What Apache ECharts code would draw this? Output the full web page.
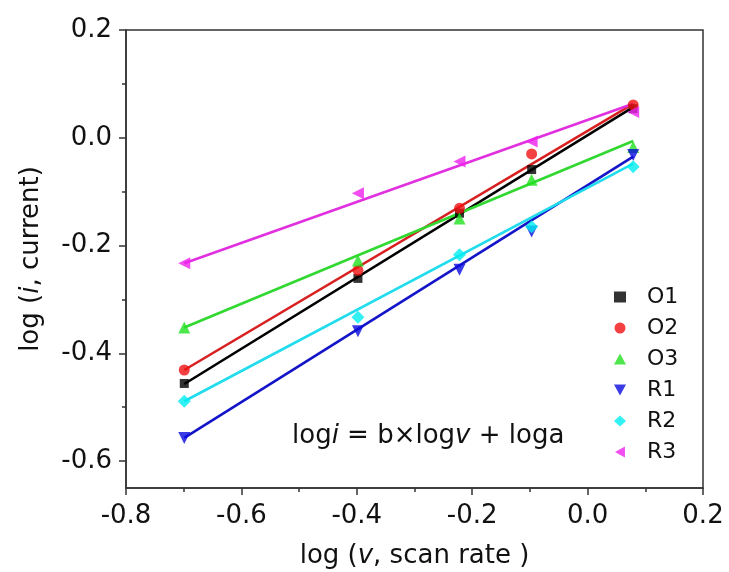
<!DOCTYPE html>
<html>
<head>
<meta charset="utf-8">
<script src="https://cdn.jsdelivr.net/npm/echarts@6/dist/echarts.min.js"></script>
<style>
  html, body { margin: 0; padding: 0; background: #fff; }
  #chart { width: 729px; height: 572px; }
</style>
</head>
<body>
<div id="chart"></div>
<script>
// log of scan rate (x) for the five measurements
const logV = [-0.699, -0.398, -0.222, -0.097, 0.079]

// measured log(i) for each peak
const O1 = [-0.456, -0.261, -0.14, -0.059, 0.054]
const O2 = [-0.431, -0.246, -0.131, -0.030, 0.061]
const O3 = [-0.352, -0.228, -0.150, -0.078, -0.017]
const R1 = [-0.557, -0.359, -0.245, -0.174, -0.032]
const R2 = [-0.489, -0.333, -0.217, -0.165, -0.054]
const R3 = [-0.233, -0.103, -0.044, -0.007, 0.048]

// fitted line ends (at first and last x)
const fitX = [-0.699, 0.079]
const fitO1 = [-0.457, 0.057]
const fitO2 = [-0.431, 0.063]
const fitO3 = [-0.352, -0.006]
const fitR1 = [-0.557, -0.035]
const fitR2 = [-0.489, -0.048]
const fitR3 = [-0.233, 0.063]

const names = ['O1', 'O2', 'O3', 'R1', 'R2', 'R3']
const yMajor = [-0.6, -0.4, -0.2, 0, 0.2]
const yMinor = [-0.5, -0.3, -0.1, 0.1]

const font = 'DejaVu Sans, sans-serif'
const chart = echarts.init(document.getElementById('chart'))

const points = [O1, O2, O3, R1, R2, R3]
const fits = [fitO1, fitO2, fitO3, fitR1, fitR2, fitR3]
const symbols = ['rect', 'circle', 'triangle', 'triangle', 'diamond', 'triangle']
const rotates = [0, 0, 0, 180, 0, 90]
const sizes = [9, 11, 12, 12, 13, 12]
// legend icons (legend does not pick up the rotation)
const legendIcons = ['rect', 'circle', 'triangle', 'path://M0,0L10,0L5,9Z', 'diamond', 'path://M9,0L9,10L0,5Z']
const dotColors = ['#000000', '#f01010', '#20e020', '#0a0ae0', '#00eef0', '#ee20ee']
const lineColors = ['#000000', '#d82020', '#30d830', '#1414c8', '#20dcec', '#e030e0']

const series = []
// fit lines underneath
fits.forEach((f, i) => {
  series.push({
    name: names[i] + ' fit',
    type: 'line',
    data: fitX.map((x, k) => [x, f[k]]),
    showSymbol: false,
    symbol: 'none',
    lineStyle: { color: lineColors[i], width: 2.6 },
    z: 2,
    silent: true
  })
})
points.forEach((p, i) => {
  series.push({
    name: names[i],
    type: 'scatter',
    data: logV.map((x, k) => [x, p[k]]),
    symbol: symbols[i],
    symbolRotate: rotates[i],
    symbolSize: sizes[i],
    itemStyle: { color: dotColors[i] },
    z: 3
  })
})

const option = {
  animation: false,
  backgroundColor: '#fff',
  textStyle: { fontFamily: font },
  grid: {
    left: 126,
    right: 26,
    top: 30,
    bottom: 84,
    show: true,
    borderColor: '#333',
    borderWidth: 1.5,
    backgroundColor: 'transparent',
    containLabel: false,
    outerBoundsMode: 'none'
  },
  legend: {
    orient: 'vertical',
    left: 614,
    top: 286,
    padding: 0,
    itemWidth: 12,
    itemHeight: 11,
    itemGap: 9,
    data: names.map((n, i) => ({ name: n, icon: legendIcons[i] })),
    textStyle: {
      fontFamily: font,
      fontSize: 22,
      lineHeight: 22,
      color: '#111',
      padding: [0, 0, 0, 16]
    }
  },
  xAxis: {
    type: 'value',
    min: -0.8,
    max: 0.2,
    interval: 0.2,
    axisLine: { show: true, onZero: false, lineStyle: { color: '#333', width: 1.5 } },
    axisTick: { show: true, inside: false, length: 7, lineStyle: { color: '#333', width: 1.5 } },
    minorTick: { show: true, splitNumber: 2, length: 4, lineStyle: { color: '#333', width: 1.5 } },
    splitLine: { show: false },
    axisLabel: {
      fontFamily: font,
      fontSize: 26,
      color: '#111',
      margin: 15,
      formatter: (v) => v.toFixed(1)
    },
    name: '{n|log (}{i|v}{n|, scan rate )}',
    nameLocation: 'middle',
    nameGap: 55,
    nameTextStyle: {
      rich: {
        n: { fontFamily: font, fontSize: 26, color: '#111' },
        i: { fontFamily: font, fontSize: 26, color: '#111', fontStyle: 'italic' }
      }
    }
  },
  yAxis: [
    {
      type: 'value',
      min: -0.65,
      max: 0.2,
      position: 'left',
      axisLine: { show: true, onZero: false, lineStyle: { color: '#333', width: 1.5 } },
      axisTick: { show: true, inside: false, length: 7, customValues: yMajor, lineStyle: { color: '#333', width: 1.5 } },
      splitLine: { show: false },
      axisLabel: {
        fontFamily: font,
        fontSize: 26,
        color: '#111',
        margin: 14,
        customValues: yMajor,
        formatter: (v) => v.toFixed(1)
      },
      name: '{n|log (}{i|i}{n|, current)}',
      nameLocation: 'middle',
      nameGap: 82,
      nameRotate: 90,
      nameTextStyle: {
        rich: {
          n: { fontFamily: font, fontSize: 26, color: '#111' },
          i: { fontFamily: font, fontSize: 26, color: '#111', fontStyle: 'italic' }
        }
      }
    },
    {
      // minor ticks on the left axis
      type: 'value',
      min: -0.65,
      max: 0.2,
      position: 'left',
      axisLine: { show: false, onZero: false },
      axisTick: { show: true, inside: false, length: 4, customValues: yMinor, lineStyle: { color: '#333', width: 1.5 } },
      axisLabel: { show: false },
      splitLine: { show: false }
    }
  ],
  graphic: [
    {
      type: 'text',
      left: 292,
      top: 423,
      style: {
        text: '{n|log}{i|i}{n| = b×log}{i|v}{n| + loga}',
        rich: {
          n: { fontFamily: font, fontSize: 26, fill: '#111' },
          i: { fontFamily: font, fontSize: 26, fill: '#111', fontStyle: 'italic' }
        }
      }
    }
  ],
  series: series
}

option && chart.setOption(option)
</script>
</body>
</html>
